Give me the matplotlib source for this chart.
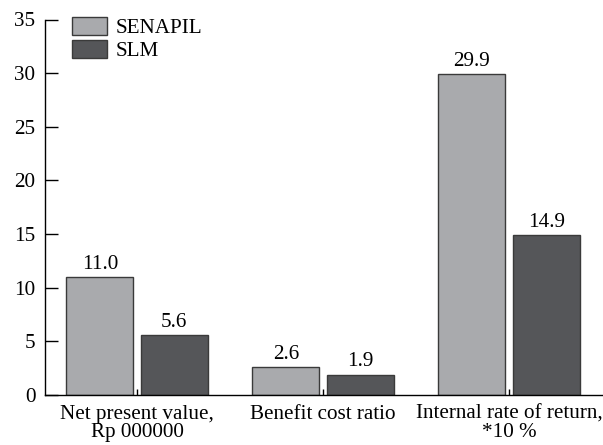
import matplotlib.pyplot as plt
import numpy as np

categories = ["Net present value,\nRp 000000", "Benefit cost ratio", "Internal rate of return,\n*10 %"]
series_names = ["SENAPIL", "SLM"]
senapil = [11.0, 2.6, 29.9]
slm = [5.6, 1.9, 14.9]
yticks = [0, 5, 10, 15, 20, 25, 30, 35]

colors = ["#a9aaad", "#555659"]
edge = "#3a3a3a"

plt.rcParams['font.family'] = ['Liberation Serif', 'DejaVu Serif']
fs = 15.2

fig = plt.figure(figsize=(6.03, 4.45), dpi=100)
ax = fig.add_axes([45 / 603, 50 / 445, 558 / 603, 375.5 / 445])

x = np.arange(len(categories))
width = 0.36
offset = 0.2

for vals, off, col, name in zip([senapil, slm], [-offset, offset], colors, series_names):
    bars = ax.bar(x + off, vals, width, color=col, edgecolor=edge, linewidth=1.0, label=name)
    for b, v in zip(bars, vals):
        ax.text(b.get_x() + b.get_width() / 2, v + 0.3, f"{v:.1f}",
                ha='center', va='bottom', fontsize=fs)

ax.set_xlim(-0.495, 2.505)
ax.set_ylim(0, 35)
ax.set_yticks(yticks)
ax.set_xticks(x)
ax.set_xticklabels(categories, fontsize=fs, linespacing=0.92)
ax.tick_params(axis='y', direction='in', length=9.5, width=1.0, labelsize=fs, pad=7)
ax.tick_params(axis='x', direction='in', length=4, width=1.0, pad=7)

for s in ['top', 'right']:
    ax.spines[s].set_visible(False)
for s in ['left', 'bottom']:
    ax.spines[s].set_linewidth(1.0)

ax.legend(loc='upper left', bbox_to_anchor=(0.048, 1.007), frameon=False, fontsize=fs,
          handlelength=1.65, handleheight=0.95, handletextpad=0.45, labelspacing=0.08,
          borderaxespad=0, borderpad=0)

fig.savefig("out.png", dpi=100)
